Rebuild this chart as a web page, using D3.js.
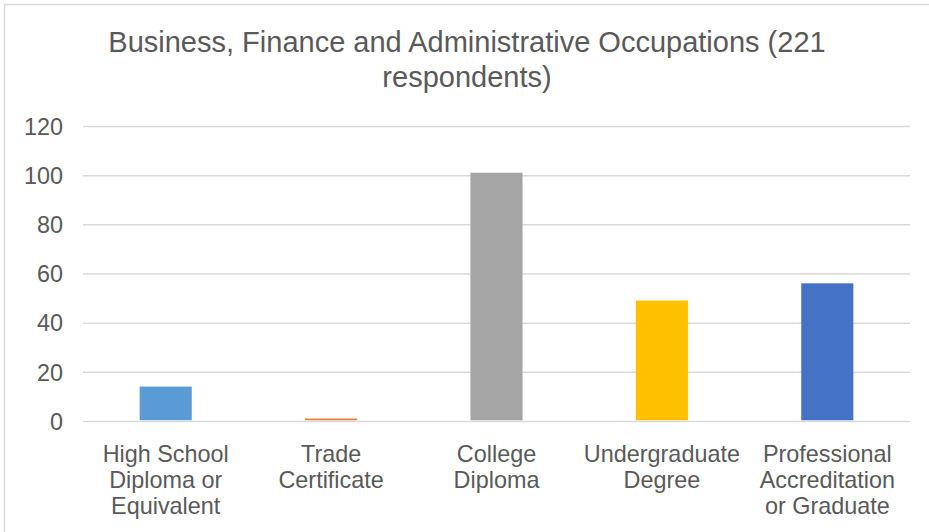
<!DOCTYPE html>
<html>
<head>
<meta charset="utf-8">
<script src="https://cdn.jsdelivr.net/npm/d3@7"></script>
<style>
  html, body { margin: 0; padding: 0; background: #fff; }
  svg { display: block; }
  text { font-family: "Liberation Sans", Arial, sans-serif; fill: #595959; }
</style>
</head>
<body>
<svg id="chart" width="929" height="532"></svg>
<script>
const titleLines = ["Business, Finance and Administrative Occupations (221", "respondents)"];
const categories = [
  "High School\nDiploma or\nEquivalent",
  "Trade\nCertificate",
  "College\nDiploma",
  "Undergraduate\nDegree",
  "Professional\nAccreditation\nor Graduate"
];
const values = [14, 1, 101, 49, 56];
const colors = ["#5B9BD5", "#ED7D31", "#A5A5A5", "#FFC000", "#4472C4"];
const yTicks = [0, 20, 40, 60, 80, 100, 120];

const svg = d3.select("#chart");
const W = 929, H = 532;
const plot = { left: 83, right: 910, top: 126, bottom: 421 };

// chart border
svg.append("rect")
  .attr("x", 4.5).attr("y", 4.5)
  .attr("width", W + 10).attr("height", H + 10)
  .attr("fill", "#fff")
  .attr("stroke", "#D9D9D9").attr("stroke-width", 1.5);

// title
svg.append("g").selectAll("text").data(titleLines).join("text")
  .attr("x", 467)
  .attr("y", (d, i) => 52 + i * 35)
  .attr("text-anchor", "middle")
  .attr("font-size", "29px")
  .text(d => d);

const x = d3.scaleBand().domain(categories).range([plot.left, plot.right]).paddingInner(0.685).paddingOuter(0.3425);
const y = d3.scaleLinear().domain([0, 120]).range([plot.bottom, plot.top]);

// gridlines
const yAxis = d3.axisLeft(y).tickValues(yTicks).tickSize(-(plot.right - plot.left)).tickPadding(20).tickFormat(d3.format("d"));
const gy = svg.append("g").attr("transform", `translate(${plot.left},0)`).call(yAxis);
gy.select(".domain").remove();
gy.selectAll(".tick line").attr("stroke", "#D9D9D9").attr("stroke-width", 1.5);
gy.selectAll(".tick text").attr("font-size", "23.4px").attr("fill", "#595959")
  .attr("font-family", "'Liberation Sans', Arial, sans-serif").attr("dy", "0.35em").attr("x", -20);

// bars
svg.append("g").selectAll("rect").data(values).join("rect")
  .attr("x", (d, i) => x(categories[i]))
  .attr("width", x.bandwidth())
  .attr("y", d => y(d))
  .attr("height", d => y(0) - y(d) - 0.75)
  .attr("fill", (d, i) => colors[i]);

// x axis labels
const xAxis = d3.axisBottom(x).tickSize(0).tickFormat("");
const gx = svg.append("g").attr("transform", `translate(0,${plot.bottom})`).call(xAxis);
gx.select(".domain").remove();
gx.selectAll(".tick").each(function(d) {
  const t = d3.select(this).append("text")
    .attr("text-anchor", "middle")
    .attr("font-size", "23.4px")
    .attr("fill", "#595959");
  d.split("\n").forEach((line, i) => {
    t.append("tspan").attr("x", 0).attr("y", 41 + i * 26).text(line);
  });
});
</script>
</body>
</html>
